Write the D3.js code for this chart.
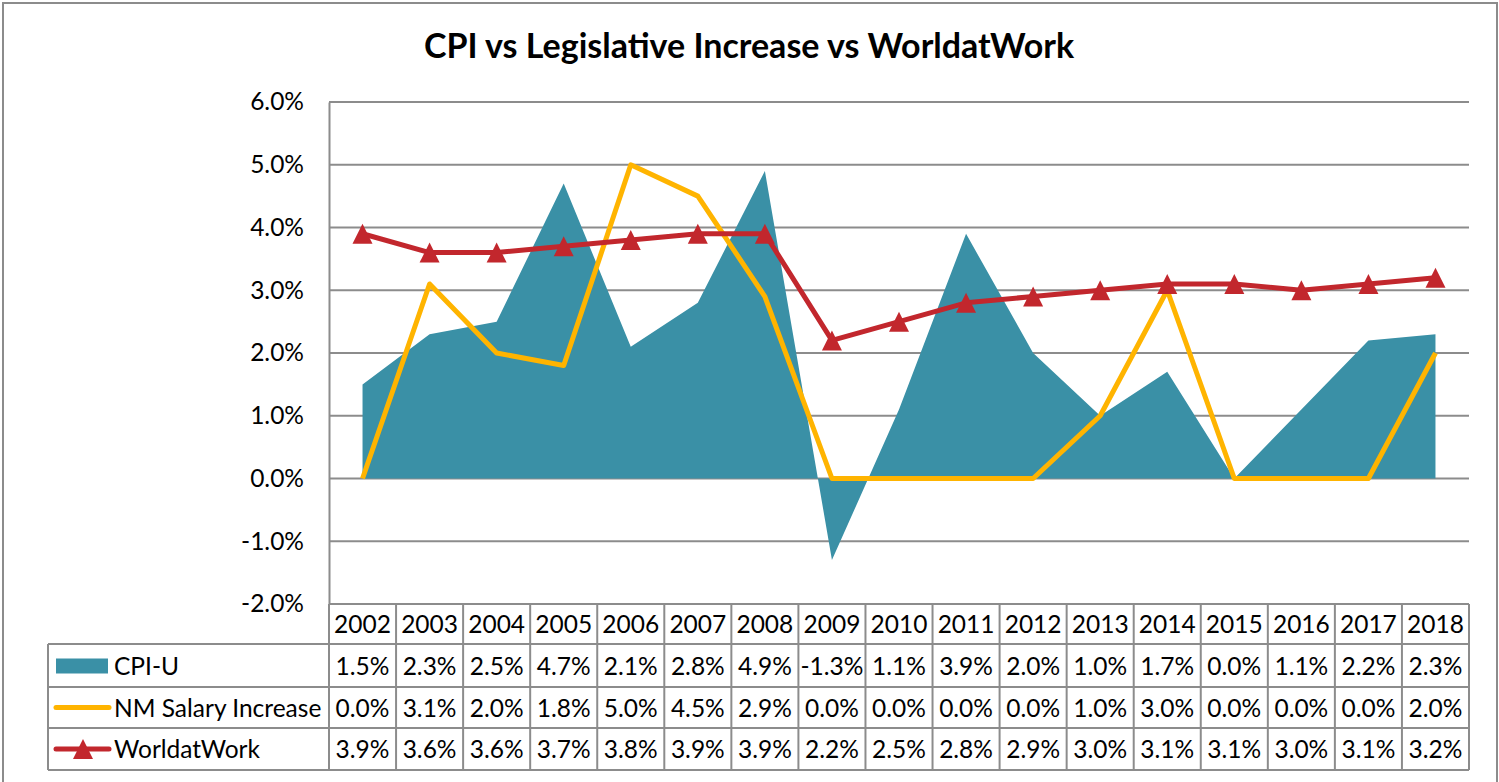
<!DOCTYPE html>
<html>
<head>
<meta charset="utf-8">
<script src="https://cdn.jsdelivr.net/npm/d3@7"></script>
<style>
  body { margin: 0; background: #fff; }
  svg { display: block; font-family: Lato, "Open Sans", sans-serif; }
</style>
</head>
<body>
<svg id="chart" width="1499" height="782"></svg>
<script>
var years = ["2002","2003","2004","2005","2006","2007","2008","2009","2010","2011","2012","2013","2014","2015","2016","2017","2018"];
var cpiU = [1.5, 2.3, 2.5, 4.7, 2.1, 2.8, 4.9, -1.3, 1.1, 3.9, 2.0, 1.0, 1.7, 0.0, 1.1, 2.2, 2.3];
var nmSalary = [0.0, 3.1, 2.0, 1.8, 5.0, 4.5, 2.9, 0.0, 0.0, 0.0, 0.0, 1.0, 3.0, 0.0, 0.0, 0.0, 2.0];
var worldatWork = [3.9, 3.6, 3.6, 3.7, 3.8, 3.9, 3.9, 2.2, 2.5, 2.8, 2.9, 3.0, 3.1, 3.1, 3.0, 3.1, 3.2];
var yTicks = [-2, -1, 0, 1, 2, 3, 4, 5, 6];
var seriesNames = ["CPI-U", "NM Salary Increase", "WorldatWork"];

var teal = "#3a90a6", gold = "#ffb400", red = "#c2272d", grid = "#8c8c8c";
var fontSize = 24.5;

// excel style percent, plain hyphen for negatives
function pct(d) { return d3.format(".1f")(d).replace("\u2212", "-") + "%"; }

var svg = d3.select("#chart");

// outer frame
svg.append("path")
  .attr("d", "M3,782 V3 H1497 V782")
  .attr("fill", "none").attr("stroke", grid).attr("stroke-width", 2);

svg.append("text")
  .attr("x", 749).attr("y", 58)
  .attr("text-anchor", "middle")
  .attr("font-size", 34).attr("font-weight", "bold")
  .text("CPI vs Legislative Increase vs WorldatWork");

var plotL = 329, plotR = 1469, plotT = 102, plotB = 604;

var x = d3.scaleBand().domain(years).range([plotL, plotR]);
var y = d3.scaleLinear().domain([-2, 6]).range([plotB, plotT]);
var cx = function(d, i) { return x(years[i]) + x.bandwidth() / 2; };

// gridlines
svg.append("g").selectAll("line").data(yTicks).join("line")
  .attr("x1", plotL).attr("x2", plotR)
  .attr("y1", function(d) { return y(d); }).attr("y2", function(d) { return y(d); })
  .attr("stroke", grid).attr("stroke-width", 2);

// y axis
var yAxis = d3.axisLeft(y).tickValues(yTicks).tickSize(0).tickPadding(25).tickFormat(pct);
var ya = svg.append("g").attr("transform", "translate(" + plotL + ",0)").call(yAxis);
ya.select(".domain").attr("stroke", grid).attr("stroke-width", 2);
ya.selectAll("text").attr("font-size", fontSize).attr("fill", "#000")
  .attr("font-family", "Lato, 'Open Sans', sans-serif");

// CPI area
var area = d3.area()
  .x(cx)
  .y0(y(0))
  .y1(function(d) { return y(d); });
svg.append("path").datum(cpiU).attr("d", area).attr("fill", teal);

// NM salary line
var line = d3.line().x(cx).y(function(d) { return y(d); });
svg.append("path").datum(nmSalary).attr("d", line)
  .attr("fill", "none").attr("stroke", gold).attr("stroke-width", 5)
  .attr("stroke-linejoin", "round");

// WorldatWork line + triangles
svg.append("path").datum(worldatWork).attr("d", line)
  .attr("fill", "none").attr("stroke", red).attr("stroke-width", 5)
  .attr("stroke-linejoin", "round");

var tri = "M0,-10 L10,10 L-10,10 Z";
svg.append("g").selectAll("path").data(worldatWork).join("path")
  .attr("transform", function(d, i) { return "translate(" + cx(d, i) + "," + y(d) + ")"; })
  .attr("d", tri).attr("fill", red);

// data table
var rowY = [604, 644, 687, 728, 770];
var tableLeft = 48;
var rows = [cpiU, nmSalary, worldatWork];
var tg = svg.append("g");

// header row (years)
tg.append("g").selectAll("text").data(years).join("text")
  .attr("x", function(d) { return x(d) + x.bandwidth() / 2; })
  .attr("y", (rowY[0] + rowY[1]) / 2 + 9)
  .attr("text-anchor", "middle").attr("font-size", fontSize)
  .text(function(d) { return d; });

rows.forEach(function(vals, r) {
  var midY = (rowY[r + 1] + rowY[r + 2]) / 2;
  tg.append("g").selectAll("text").data(vals).join("text")
    .attr("x", function(d, i) { return cx(d, i); })
    .attr("y", midY + 9)
    .attr("text-anchor", "middle").attr("font-size", fontSize)
    .text(pct);
  tg.append("text")
    .attr("x", 114).attr("y", midY + 9)
    .attr("font-size", fontSize)
    .text(seriesNames[r]);
});

// legend keys
var k1 = (rowY[1] + rowY[2]) / 2, k2 = (rowY[2] + rowY[3]) / 2, k3 = (rowY[3] + rowY[4]) / 2;
tg.append("rect").attr("x", 56).attr("y", k1 - 7).attr("width", 52).attr("height", 15).attr("fill", teal);
tg.append("line").attr("x1", 56).attr("x2", 109).attr("y1", k2).attr("y2", k2)
  .attr("stroke", gold).attr("stroke-width", 5).attr("stroke-linecap", "round");
tg.append("line").attr("x1", 56).attr("x2", 109).attr("y1", k3).attr("y2", k3)
  .attr("stroke", red).attr("stroke-width", 5).attr("stroke-linecap", "round");
tg.append("path").attr("transform", "translate(83," + k3 + ")").attr("d", tri).attr("fill", red);

// table grid lines
var hLines = [
  [plotL, rowY[1]], [tableLeft, rowY[1]], [tableLeft, rowY[2]], [tableLeft, rowY[3]], [tableLeft, rowY[4]]
];
hLines.forEach(function(h) {
  tg.append("line").attr("x1", h[0]).attr("x2", plotR).attr("y1", h[1]).attr("y2", h[1])
    .attr("stroke", grid).attr("stroke-width", 2);
});
var colEdges = years.map(function(d) { return x(d); }).concat([plotR]);
tg.append("g").selectAll("line").data(colEdges).join("line")
  .attr("x1", function(d) { return d; }).attr("x2", function(d) { return d; })
  .attr("y1", rowY[0]).attr("y2", rowY[4])
  .attr("stroke", grid).attr("stroke-width", 2);
tg.append("line").attr("x1", tableLeft).attr("x2", tableLeft)
  .attr("y1", rowY[1]).attr("y2", rowY[4])
  .attr("stroke", grid).attr("stroke-width", 2);
</script>
</body>
</html>
